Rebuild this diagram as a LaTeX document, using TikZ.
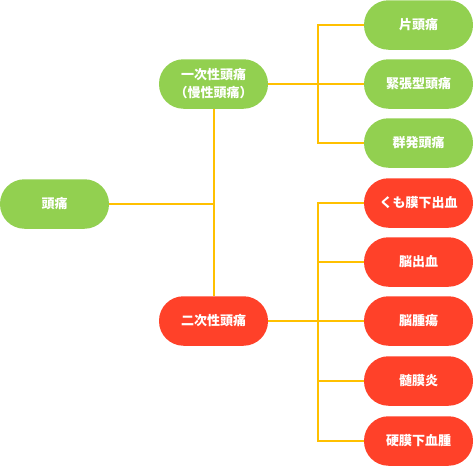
\documentclass[tikz,border=0pt]{standalone}
\usepackage{fontspec}
\newfontfamily\cjk{Noto Sans CJK JP}
\definecolor{gr}{RGB}{146,208,80}
\definecolor{rd}{RGB}{255,65,41}
\definecolor{ln}{RGB}{255,192,0}
\begin{document}
\begin{tikzpicture}[x=1pt,y=-1pt,
  box/.style={rectangle,rounded corners=24.5pt,minimum width=109pt,minimum height=49.5pt,inner sep=0pt,
    text=white,font=\cjk\bfseries\fontsize{13pt}{18pt}\selectfont,align=center},
  gbox/.style={box,fill=gr},
  rbox/.style={box,fill=rd},
  conn/.style={draw=ln,line width=2pt}]
\useasboundingbox (0,0) rectangle (473,466);
\node[gbox] (root) at (54.5,204) {頭痛};
\node[gbox] (p) at (213.5,84) {一次性頭痛\\（慢性頭痛）};
\node[rbox] (s) at (213.5,321) {二次性頭痛};
\node[gbox] (g1) at (418.5,25) {片頭痛};
\node[gbox] (g2) at (418.5,84) {緊張型頭痛};
\node[gbox] (g3) at (418.5,143) {群発頭痛};
\node[rbox] (r1) at (418.5,203) {くも膜下出血};
\node[rbox] (r2) at (418.5,262) {脳出血};
\node[rbox] (r3) at (418.5,321) {脳腫瘍};
\node[rbox] (r4) at (418.5,381) {髄膜炎};
\node[rbox] (r5) at (418.5,441) {硬膜下血腫};
\coordinate (j) at (213.5,204);
\coordinate (gj) at (318,84);
\coordinate (rj) at (318,321);
\draw[conn] (root.east) -- (j);
\draw[conn] (p.south) -- (s.north);
\draw[conn] (p.east) -- (g2.west);
\draw[conn] (g1.west) -| (gj) |- (g3.west);
\draw[conn] (s.east) -- (r3.west);
\draw[conn] (r1.west) -| (rj) |- (r5.west);
\draw[conn] (rj |- r2.west) -- (r2.west);
\draw[conn] (rj |- r4.west) -- (r4.west);
\end{tikzpicture}
\end{document}
